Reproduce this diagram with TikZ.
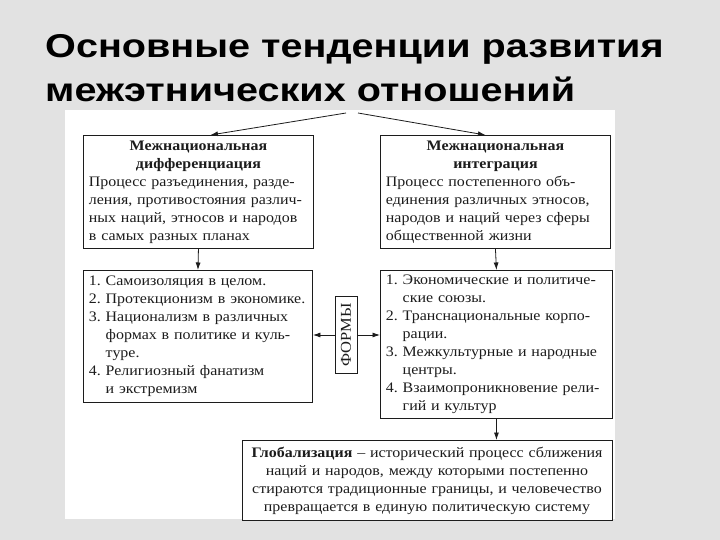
\documentclass[tikz,border=0pt]{standalone}
\usepackage{fontspec}
\setmainfont{Liberation Serif}[FakeStretch=1.1]
\newfontfamily\titlefont{Liberation Sans}[FakeStretch=1.2]
\usetikzlibrary{arrows.meta}
\definecolor{paper}{RGB}{226,226,226}
\definecolor{ink}{RGB}{28,28,28}
\newcommand{\hangin}{\hphantom{1.~}}
\setlength{\parindent}{0pt}
\setlength{\parskip}{0pt}
\frenchspacing

\begin{document}
\begin{tikzpicture}[
  x=1pt, y=-1pt,
  >={Latex[length=7.5pt,width=5pt]},
  box/.style={draw=ink, line width=0.9pt, fill=white, anchor=north west,
    inner xsep=5pt, inner ysep=2pt, text=ink,
    font=\fontsize{14.5}{18}\selectfont},
  link/.style={->, line width=0.8pt, draw=ink},
  ttl/.style={anchor=base west, inner sep=0pt, text=black,
    font=\titlefont\bfseries\fontsize{33}{40}\selectfont}]

\useasboundingbox (0,0) rectangle (720,540);
\fill[paper] (0,0) rectangle (720,540);
\fill[white] (65,110) rectangle (615,519);

% title
\node[ttl] (title1) at (45,58)  {Основные тенденции развития};
\node[ttl] (title2) at (45,102) {межэтнических отношений};
\coordinate (fork) at (352,113);

% the two tendencies
\node[box, minimum width=230pt, minimum height=113pt, text width=219pt] (diff) at (83,135)
  {{\centering\bfseries Межнациональная\\ дифференциация\par}
   Процесс разъединения, разде-\\ ления, противостояния различ-\\
   ных наций, этносов и народов\\ в самых разных планах};
\node[box, minimum width=230pt, minimum height=113pt, text width=219pt] (integ) at (380,135)
  {{\centering\bfseries Межнациональная\\ интеграция\par}
   Процесс постепенного объ-\\ единения различных этносов,\\
   народов и наций через сферы\\ общественной жизни};

% their forms
\node[box, minimum width=229pt, minimum height=132pt, text width=218pt] (diffforms) at (83,270)
  {1. Самоизоляция в целом.\\
   2. Протекционизм в экономике.\\
   3. Национализм в различных\\
   \hangin формах в политике и куль-\\
   \hangin туре.\\
   4. Религиозный фанатизм\\
   \hangin и экстремизм};
\node[box, minimum width=232pt, minimum height=148pt, text width=221pt] (integforms) at (380,270)
  {1. Экономические и политиче-\\
   \hangin ские союзы.\\
   2. Транснациональные корпо-\\
   \hangin рации.\\
   3. Межкультурные и народные\\
   \hangin центры.\\
   4. Взаимопроникновение рели-\\
   \hangin гий и культур};
\node[draw=ink, line width=0.9pt, fill=white, rotate=90, inner sep=1pt,
  minimum width=77pt, minimum height=22pt, text=ink,
  font=\fontsize{15}{16}\selectfont] (forms) at (346,335) {ФОРМЫ};

% globalization
\node[box, anchor=north, minimum width=370pt, minimum height=80pt, text width=359pt] (glob) at (427,440)
  {\centering\textbf{Глобализация} -- исторический процесс сближения\\
   наций и народов, между которыми постепенно\\
   стираются традиционные границы, и человечество\\
   превращается в единую политическую систему\par};

% arrows
\draw[link] ([xshift=-6pt]fork) -- ([xshift=12pt]diff.north);
\draw[link] ([xshift=6pt]fork) -- ([xshift=-10pt]integ.north);
\draw[link] (diff.south) -- (diffforms.north);
\draw[link] (integ.south) -- (integforms.north);
\draw[link] (integforms.south) -- (integforms.south |- glob.north);
\draw[link] (forms.north) -- (forms.north -| diffforms.east);
\draw[link] (forms.south) -- (forms.south -| integforms.west);

\end{tikzpicture}
\end{document}
